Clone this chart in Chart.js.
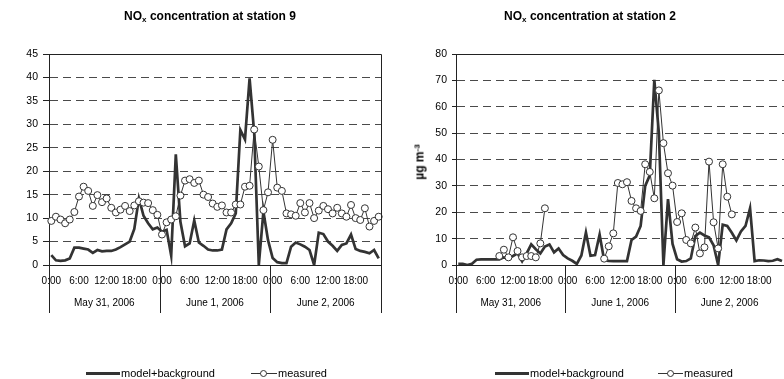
<!DOCTYPE html>
<html>
<head>
<meta charset="utf-8">
<script src="https://cdn.jsdelivr.net/npm/chart.js@4.4.0/dist/chart.umd.min.js"></script>
<style>
  html, body { margin: 0; padding: 0; background: #fff; }
  #page { position: relative; width: 784px; height: 379px; overflow: hidden; background: #fff;
          font-family: "Liberation Sans", Arial, sans-serif; color: #000; }
  canvas { position: absolute; top: 0; }
  #c1 { left: 0; }
  #c2 { left: 392px; }
  .title { position: absolute; top: 9px; font-weight: bold; font-size: 12px; white-space: nowrap;
           transform: translateX(-50%); line-height: 14px; }
  .title sub { font-size: 8px; vertical-align: -2px; line-height: 0; }
  .ytitle { position: absolute; font-weight: bold; font-size: 12px; white-space: nowrap;
            transform: translate(-50%, -50%) rotate(-90deg); line-height: 13px; }
  .ytitle sup { font-size: 8px; vertical-align: 4px; line-height: 0; }
  .leg { position: absolute; top: 366px; font-size: 11px; white-space: nowrap; line-height: 14px; }
  .legline { position: absolute; }
  .legdot { position: absolute; width: 7px; height: 7px; border: 1px solid #333; border-radius: 50%;
            background: #fff; box-sizing: border-box; }
</style>
</head>
<body>
<div id="page">
  <canvas id="c1" width="392" height="379"></canvas>
  <canvas id="c2" width="400" height="379"></canvas>

  <div class="title" style="left:210px;">NO<sub>x</sub> concentration at station 9</div>
  <div class="title" style="left:590px;">NO<sub>x</sub> concentration at station 2</div>
  <div class="ytitle" style="left:420px; top:162px;">µg m<sup>-3</sup></div>

  <!-- legends -->
  <div class="legline" style="left:86px; top:372px; width:34px; height:3px; background:#333;"></div>
  <div class="leg" style="left:121px;">model+background</div>
  <div class="legline" style="left:251px; top:373px; width:26px; height:1px; background:#333;"></div>
  <div class="legdot" style="left:260px; top:369.5px;"></div>
  <div class="leg" style="left:278px;">measured</div>

  <div class="legline" style="left:495px; top:372px; width:34px; height:3px; background:#333;"></div>
  <div class="leg" style="left:530px;">model+background</div>
  <div class="legline" style="left:658px; top:373px; width:25px; height:1px; background:#333;"></div>
  <div class="legdot" style="left:667px; top:369.5px;"></div>
  <div class="leg" style="left:684px;">measured</div>
</div>

<script>
// ---------- DATA ----------
const dayLabels = ['May 31, 2006', 'June 1, 2006', 'June 2, 2006'];
const hourTickLabels = ['0:00', '6:00', '12:00', '18:00'];
const seriesNames = ['model+background', 'measured'];

// Station 9 (hourly, May 31 0:00 .. June 2 23:00)
const st9Model = [
  2.1, 1.0, 0.9, 1.0, 1.4, 3.7, 3.7, 3.5, 3.3, 2.6, 3.2, 2.9,
  3.0, 3.0, 3.3, 3.8, 4.4, 5.0, 7.7, 14.2, 10.5, 8.9, 7.6, 8.0,
  7.1, 7.5, 2.0, 23.6, 9.2, 4.0, 4.6, 9.5, 4.8, 4.1, 3.3, 3.1,
  3.1, 3.3, 7.6, 8.9, 11.0, 28.8, 26.8, 39.8, 28.2, 0.0, 11.4, 5.3,
  1.5, 0.6, 0.4, 0.4, 3.9, 4.8, 4.4, 3.9, 3.2, 0.0, 6.9, 6.6,
  5.0, 4.1, 3.0, 4.3, 4.6, 6.5, 3.4, 3.0, 2.8, 2.5, 3.2, 1.4
];
const st9Measured = [
  9.4, 10.3, 9.7, 8.9, 9.7, 11.3, 14.6, 16.7, 15.8, 12.6, 14.9, 13.4,
  14.2, 12.2, 11.2, 11.8, 12.6, 11.5, 12.7, 13.6, 13.3, 13.2, 11.7, 10.7,
  6.5, 9.1, 9.7, 10.4, 14.8, 18.0, 18.3, 17.5, 18.0, 15.0, 14.5, 13.1,
  12.4, 12.7, 11.2, 11.2, 12.9, 12.9, 16.7, 16.9, 28.9, 21.0, 11.7, 15.5,
  26.7, 16.5, 15.8, 11.0, 10.8, 10.5, 13.2, 11.2, 13.2, 10.0, 11.6, 12.6,
  11.9, 11.0, 12.2, 11.0, 10.3, 12.8, 10.0, 9.6, 12.1, 8.2, 9.4, 10.3
];

// Station 2
const st2Model = [
  0.4, 0.4, 0.0, 0.5, 2.0, 2.1, 2.1, 2.1, 2.1, 2.1, 2.9, 2.5,
  3.4, 4.4, 1.4, 4.4, 7.8, 6.0, 4.4, 7.0, 7.8, 4.8, 6.3, 3.8,
  2.5, 1.6, 0.4, 3.6, 12.3, 3.5, 3.8, 11.5, 1.8, 1.6, 1.5, 1.5,
  1.5, 1.5, 9.5, 10.8, 14.8, 30.0, 34.0, 70.2, 50.0, 0.0, 25.0, 8.0,
  2.2, 1.3, 1.5, 2.5, 11.0, 12.3, 11.2, 10.5, 7.5, 0.0, 15.3, 14.8,
  12.2, 9.3, 12.7, 14.8, 21.5, 1.5, 1.8, 1.7, 1.5, 1.6, 2.2, 1.5
];
const st2Measured = [
  null, null, null, null, null, null, null, null, null, 3.4, 5.8, 2.9,
  10.5, 5.3, 2.9, 3.4, 3.4, 2.9, 8.2, 21.5, null, null, null, null,
  null, null, null, null, null, null, null, null, 2.4, 7.1, 12.0, 31.1,
  30.6, 31.4, 24.3, 21.5, 20.5, 38.2, 35.3, 25.3, 66.2, 46.2, 34.8, 30.1,
  16.3, 19.6, 9.5, 8.2, 14.2, 4.4, 6.7, 39.2, 16.2, 6.3, 38.2, 25.9,
  19.2, null, null, null, null, null, null, null, null, null, null, null
];

// ---------- build category labels (one per hour) ----------
const hourLabels = [];
dayLabels.forEach(() => { for (let h = 0; h < 24; h++) hourLabels.push(h + ':00'); });

const FONT = '"Liberation Sans", Arial, sans-serif';
const INK = '#333333';

function makeChart(canvasId, model, measured, yMax, yStep, opts) {
  const dateAxisPlugin = {
    id: 'dateAxis',
    afterDraw(chart) {
      const ctx = chart.ctx, xs = chart.scales.x, area = chart.chartArea;
      const step = (xs.right - xs.left) / hourLabels.length;
      ctx.save();
      // plot frame (top & right)
      ctx.strokeStyle = '#222';
      ctx.lineWidth = 1;
      ctx.beginPath();
      ctx.moveTo(area.left, area.top + 0.5);
      ctx.lineTo(Math.round(area.right) + 0.5, area.top + 0.5);
      ctx.lineTo(Math.round(area.right) + 0.5, area.bottom);
      ctx.stroke();
      // day separators + date labels
      ctx.fillStyle = '#000';
      ctx.font = '10px ' + FONT;
      ctx.textAlign = 'center';
      ctx.textBaseline = 'middle';
      for (let d = 0; d <= dayLabels.length; d++) {
        const x = Math.round(xs.left + d * 24 * step) + 0.5;
        ctx.beginPath();
        ctx.moveTo(x, area.bottom);
        ctx.lineTo(x, area.bottom + 48);
        ctx.stroke();
      }
      dayLabels.forEach((lab, d) => {
        ctx.fillText(lab, xs.left + (d * 24 + 12) * step, area.bottom + 38);
      });
      ctx.restore();
    }
  };

  return new Chart(document.getElementById(canvasId), {
    type: 'line',
    data: {
      labels: hourLabels,
      datasets: [
        {
          label: seriesNames[1], data: measured, order: 0,
          borderColor: INK, borderWidth: 1, tension: 0, spanGaps: false,
          pointRadius: 3.5, pointHoverRadius: 3.5, pointBackgroundColor: '#fff',
          pointBorderColor: INK, pointBorderWidth: 1
        },
        {
          label: seriesNames[0], data: model, order: 1,
          borderColor: INK, borderWidth: 2.7, tension: 0, pointRadius: 0,
          borderJoinStyle: 'miter'
        }
      ]
    },
    options: {
      responsive: false, animation: false, devicePixelRatio: 1,
      layout: { padding: { top: 54, right: opts.padRight, left: 0, bottom: 0 } },
      plugins: { legend: { display: false }, title: { display: false }, tooltip: { enabled: false } },
      scales: {
        x: {
          type: 'category', offset: true,
          afterFit(s) { s.height = 114; },
          grid: { display: false, drawTicks: false },
          border: { display: true, color: '#222', width: 1 },
          ticks: {
            autoSkip: false, maxRotation: 0, minRotation: 0, padding: 10,
            color: '#000', font: { family: FONT, size: 10 },
            callback(v, i) {
              if (i % 6 !== 0) return '';
              return hourTickLabels[(i % 24) / 6];
            }
          }
        },
        y: {
          min: 0, max: yMax,
          afterFit(s) { s.width = opts.yWidth; },
          grid: {
            color(c) { return (c.tick.value === 0 || c.tick.value === yMax) ? 'rgba(0,0,0,0)' : '#4a4a4a'; },
            lineWidth: 1,
            drawTicks: true, tickLength: opts.tickLen, tickColor: '#222', tickBorderDash: [], tickWidth: 1
          },
          border: { display: true, color: '#222', width: 1, dash: [8, 5] },
          ticks: { stepSize: yStep, padding: 5, color: '#000', font: { family: FONT, size: 10.5 } }
        }
      }
    },
    plugins: [dateAxisPlugin]
  });
}

makeChart('c1', st9Model, st9Measured, 45, 5, { padRight: 11, yWidth: 49, tickLen: 6 });
makeChart('c2', st2Model, st2Measured, 80, 10, { padRight: 4, yWidth: 64, tickLen: 4 });
</script>
</body>
</html>
